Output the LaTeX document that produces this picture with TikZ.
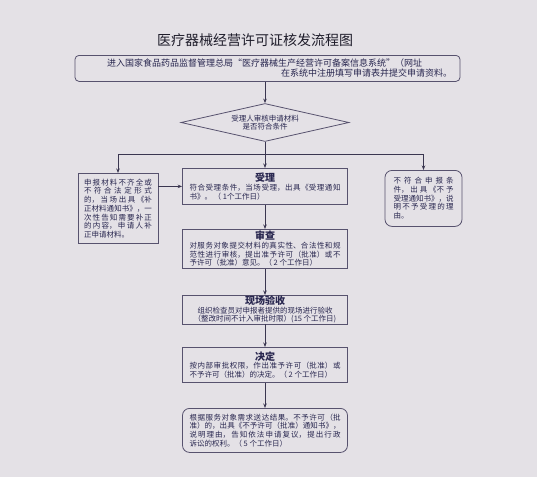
\documentclass[tikz,border=0pt]{standalone}
\usepackage{fontspec}
\setmainfont{Noto Sans CJK SC}
\XeTeXlinebreaklocale "zh"
\XeTeXlinebreakskip=0pt plus 2pt minus 0.15pt
\tolerance=9999
\setlength\parindent{0pt}
\usetikzlibrary{positioning,shapes.geometric,arrows.meta}
\definecolor{flowbg}{HTML}{E4E1E6}
\definecolor{flowink}{HTML}{28264F}
\definecolor{flowedge}{HTML}{57526E}
\definecolor{flowline}{HTML}{3A3650}
\definecolor{flowtitle}{HTML}{1F1D2B}
\newcommand\stagehead[1]{\hspace*{\fill}{\bfseries\fontsize{10}{10}\selectfont #1}\hspace*{\fill}\\}
\newcommand\midline[1]{\hspace*{\fill}#1\hspace*{\fill}}

\begin{document}
\begin{tikzpicture}[x=1pt, y=-1pt,
  font=\fontsize{7.5}{8.7}\selectfont, >={Stealth[length=4.5pt,width=3.5pt]},
  box/.style={draw=flowedge, line width=0.8pt, fill=flowbg, text=flowink, align=justify, inner ysep=1pt},
  stage/.style={box, text width=151pt, inner xsep=7pt, anchor=north},
  side/.style={box, anchor=north},
  decide/.style={diamond, draw=flowedge, line width=0.8pt, fill=flowbg, text=flowink, align=center, aspect=4.4, inner sep=0pt, minimum width=168pt, minimum height=38pt, font=\fontsize{7.5}{8}\selectfont},
  link/.style={->, draw=flowline, line width=0.8pt},
  wire/.style={draw=flowline, line width=0.8pt}]
\fill[flowbg] (0,0) rectangle (537,477);
\useasboundingbox (0,0) rectangle (537,477);
% heading and entry
\node[font=\fontsize{14}{16}\selectfont, text=flowtitle] (title) at (255,40) {医疗器械经营许可证核发流程图};
\node[box, rounded corners=4pt, anchor=north, text width=369pt, inner xsep=8pt, minimum height=26pt, align=left, font=\fontsize{9}{10}\selectfont] (start) at (267.5,55) {\hspace*{24pt}进入国家食品药品监督管理总局“医疗器械生产经营许可备案信息系统”（网址\\\hspace*{\fill}在系统中注册填写申请表并提交申请资料。};
\node[decide] (check) at (265,122.5) {受理人审核申请材料\\是否符合条件};
\coordinate (split) at (265,154);
% three outcomes
\node[side, text width=68pt, inner xsep=6pt, minimum height=70pt] (fix) at (118,173) {申报材料不齐全或\linebreak 不符合法定形式\linebreak 的，当场出具《补\linebreak 正材料通知书》，一\linebreak 次性告知需要补正\linebreak 的内容，申请人补\linebreak 正申请材料。};
\node[stage, minimum height=36pt] (accept) at (265,168) {\stagehead{受理}符合受理条件，当场受理，出具《受理通知\linebreak 书》。 （ 1个工作日）};
\node[side, rounded corners=7pt, text width=60pt, inner xsep=8.5pt, minimum height=56pt] (refuse) at (423.5,170) {不符合申报条\linebreak 件，出具《不予\linebreak 受理通知书》，说\linebreak 明不予受理的理\linebreak 由。};
% main chain
\node[stage, minimum height=39pt] (review) at (265,229) {\stagehead{审查}对服务对象提交材料的真实性、合法性和规\linebreak 范性进行审核，提出准予许可（批准）或不\linebreak 予许可（批准）意见。（ 2 个工作日）};
\node[stage, minimum height=27pt, inner ysep=0.5pt] (site) at (265,295) {\stagehead{现场验收}\midline{组织检查员对申报者提供的现场进行验收}\\\midline{（整改时间不计入审批时限）(15 个工作日)}};
\node[stage, minimum height=35pt] (decision) at (265,347) {\stagehead{决定}按内部审批权限，作出准予许可（批准）或\linebreak 不予许可（批准）的决定。（ 2 个工作日）};
\node[stage, rounded corners=7pt, minimum height=44pt] (deliver) at (265,408) {根据服务对象需求送达结果。不予许可（批\linebreak 准）的，出具《不予许可（批准）通知书》，\linebreak 说明理由，告知依法申请复议，提出行政\linebreak 诉讼的权利。（ 5 个工作日）};
% links
\draw[link] (check.north |- start.south) -- (check.north);
\draw[wire] (check.south) -- (split);
\draw[link] (split) -- (accept.north);
\draw[link] (split) -| (fix.north);
\draw[link] (split) -| (refuse.north);
\draw[link] (fix.east |- accept.west) -- (accept.west);
\draw[link] (accept.south) -- (review.north);
\draw[link] (review.south) -- (site.north);
\draw[link] (site.south) -- (decision.north);
\draw[link] (decision.south) -- (deliver.north);
\end{tikzpicture}
\end{document}
